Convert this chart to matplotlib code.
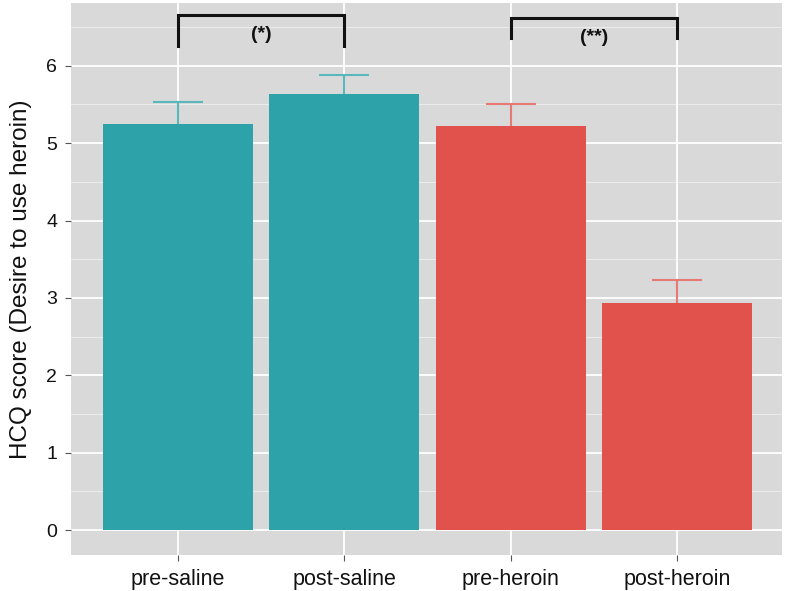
import matplotlib
matplotlib.use("Agg")
import matplotlib.pyplot as plt
import numpy as np

plt.rcParams['font.family'] = ['Liberation Sans', 'DejaVu Sans']

categories = ["pre-saline", "post-saline", "pre-heroin", "post-heroin"]
means = [5.25, 5.63, 5.22, 2.93]
errors = [0.28, 0.25, 0.28, 0.30]
colors = ["#2ea2a9", "#2ea2a9", "#e0524b", "#e0524b"]
err_colors = ["#5ab8bd", "#5ab8bd", "#e77a74", "#e77a74"]
brackets = [(1, 2, 6.25, 6.65, 6.40, "(*)"), (3, 4, 6.36, 6.62, 6.37, "(**)")]

fig = plt.figure(figsize=(7.85, 5.91), dpi=100)
ax = fig.add_axes([0.0904, 0.061, 0.906, 0.934])
ax.set_facecolor("#d9d9d9")

x = np.arange(1, len(categories) + 1)
ax.set_xlim(0.36, 4.63)
ax.set_ylim(-0.32, 6.81)

# grid
for yv in np.arange(0, 7, 1):
    ax.axhline(yv, color="white", lw=1.3, zorder=0)
for yv in np.arange(0.5, 7, 1):
    ax.axhline(yv, color="#ececec", lw=0.7, zorder=0)
for xv in x:
    ax.axvline(xv, color="white", lw=1.3, zorder=0)

# error bars (upper only, behind bars)
cap_half = 0.15
for xi, m, e, c in zip(x, means, errors, err_colors):
    ax.vlines(xi, m, m + e, color=c, lw=1.5, zorder=1)
    ax.hlines(m + e, xi - cap_half, xi + cap_half, color=c, lw=1.5, zorder=1)

ax.bar(x, means, width=0.9, color=colors, zorder=2)

# significance brackets
for x1, x2, ylo, yhi, ytxt, lab in brackets:
    ax.plot([x1, x1, x2, x2], [ylo, yhi, yhi, ylo], color="#111111", lw=2.2,
            solid_joinstyle="miter", zorder=3)
    ax.text((x1 + x2) / 2, ytxt, lab, ha="center", va="center",
            fontsize=14, fontweight="bold", color="#111111", zorder=3)

ax.set_xticks(x)
ax.set_xticklabels(categories, fontsize=15.5, color="#111111")
ax.set_yticks(range(0, 7))
ax.set_yticklabels([str(v) for v in range(0, 7)], fontsize=14, color="#111111")
ax.tick_params(axis="both", length=4, width=0.8, color="#555555")
ax.tick_params(axis="x", pad=6)
ax.tick_params(axis="y", pad=6)
for s in ax.spines.values():
    s.set_visible(False)

ax.set_ylabel("HCQ score (Desire to use heroin)", fontsize=17.5, color="#111111", labelpad=10)

fig.savefig("out.png", dpi=100)
